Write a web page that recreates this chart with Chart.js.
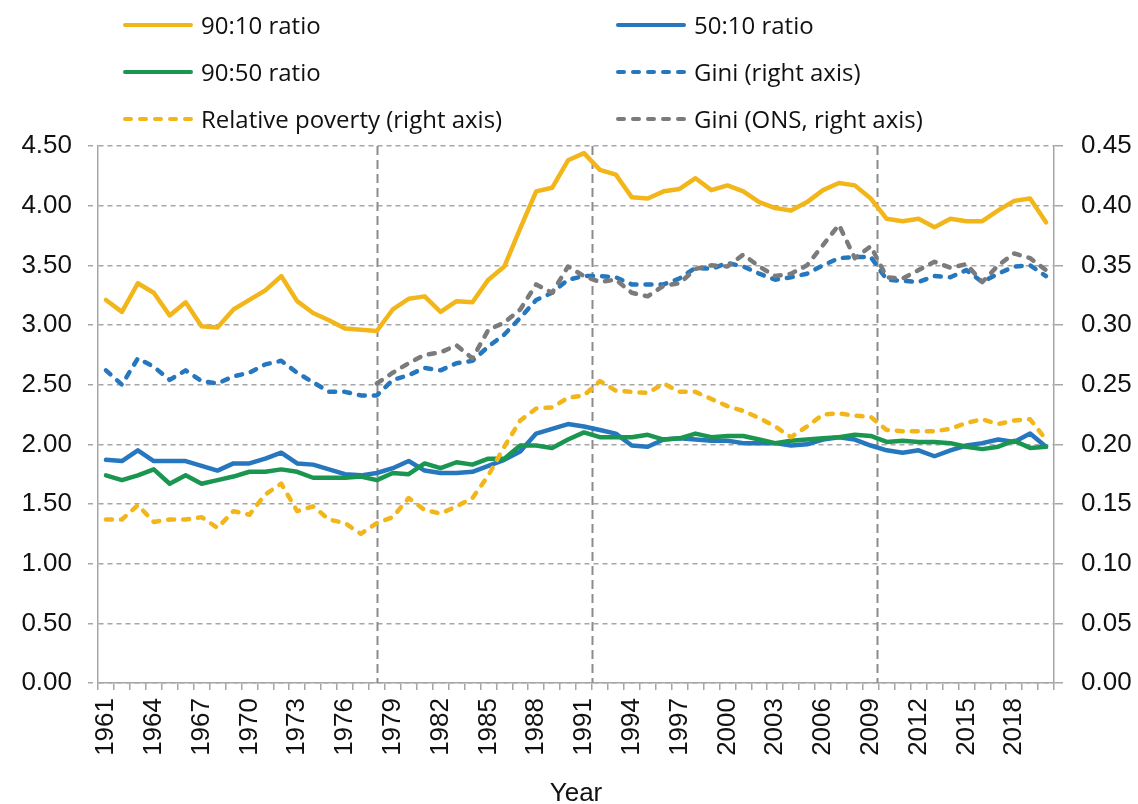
<!DOCTYPE html>
<html>
<head>
<meta charset="utf-8">
<script src="https://cdn.jsdelivr.net/npm/chart.js@4.4.1/dist/chart.umd.min.js"></script>
<style>
  html, body { margin: 0; padding: 0; background: #fff; }
  #wrap { position: relative; width: 1138px; height: 804px; }
  #legend { position: absolute; left: 0; top: 0; width: 1138px; height: 140px; }
  .item { position: absolute; display: flex; align-items: center; height: 30px;
          font-family: "Open Sans", "Liberation Sans", sans-serif; font-size: 24px; color: #111; line-height: 1; white-space: nowrap; }
  .item svg { margin-right: 8px; }
</style>
</head>
<body>
<div id="wrap">
  <canvas id="c" width="1138" height="804"></canvas>
  <div id="legend"></div>
</div>
<script>
const years = ["1961","1962","1963","1964","1965","1966","1967","1968","1969","1970",
  "1971","1972","1973","1974","1975","1976","1977","1978","1979","1980",
  "1981","1982","1983","1984","1985","1986","1987","1988","1989","1990",
  "1991","1992","1993","1994","1995","1996","1997","1998","1999","2000",
  "2001","2002","2003","2004","2005","2006","2007","2008","2009","2010",
  "2011","2012","2013","2014","2015","2016","2017","2018","2019","2020"];

const ratio9010 = [3.21,3.11,3.35,3.27,3.08,3.19,2.99,2.98,3.13,3.21,
  3.29,3.41,3.20,3.10,3.04,2.97,2.96,2.95,3.13,3.22,
  3.24,3.11,3.20,3.19,3.38,3.49,3.81,4.12,4.15,4.38,
  4.44,4.30,4.26,4.07,4.06,4.12,4.14,4.23,4.13,4.17,
  4.12,4.03,3.98,3.96,4.03,4.13,4.19,4.17,4.06,3.89,
  3.87,3.89,3.82,3.89,3.87,3.87,3.96,4.04,4.06,3.86];

const ratio5010 = [1.87,1.86,1.95,1.86,1.86,1.86,1.82,1.78,1.84,1.84,
  1.88,1.93,1.84,1.83,1.79,1.75,1.74,1.76,1.80,1.86,
  1.78,1.76,1.76,1.77,1.82,1.87,1.94,2.09,2.13,2.17,
  2.15,2.12,2.09,1.99,1.98,2.04,2.05,2.04,2.03,2.03,
  2.01,2.01,2.01,1.99,2.00,2.04,2.06,2.04,1.99,1.95,
  1.93,1.95,1.90,1.95,1.99,2.01,2.04,2.02,2.09,1.98];

const ratio9050 = [1.74,1.70,1.74,1.79,1.67,1.74,1.67,1.70,1.73,1.77,
  1.77,1.79,1.77,1.72,1.72,1.72,1.73,1.70,1.76,1.75,
  1.84,1.80,1.85,1.83,1.88,1.88,1.99,1.99,1.97,2.04,
  2.10,2.06,2.06,2.06,2.08,2.04,2.05,2.09,2.06,2.07,
  2.07,2.04,2.01,2.03,2.04,2.05,2.06,2.08,2.07,2.02,
  2.03,2.02,2.02,2.01,1.98,1.96,1.98,2.03,1.97,1.98];

const gini = [0.262,0.250,0.272,0.265,0.254,0.262,0.253,0.251,0.257,0.260,
  0.267,0.270,0.260,0.252,0.244,0.244,0.241,0.241,0.254,0.258,
  0.264,0.262,0.268,0.270,0.282,0.292,0.306,0.321,0.327,0.338,
  0.341,0.341,0.340,0.334,0.334,0.334,0.339,0.348,0.347,0.352,
  0.349,0.343,0.338,0.340,0.343,0.350,0.356,0.357,0.357,0.338,
  0.337,0.336,0.341,0.340,0.346,0.336,0.343,0.349,0.350,0.341];

const relPoverty = [0.137,0.137,0.149,0.135,0.137,0.137,0.139,0.130,0.144,0.141,
  0.158,0.167,0.144,0.148,0.137,0.134,0.125,0.134,0.139,0.155,
  0.145,0.142,0.148,0.155,0.174,0.198,0.220,0.230,0.231,0.239,
  0.241,0.253,0.245,0.244,0.243,0.251,0.244,0.244,0.238,0.232,
  0.228,0.222,0.215,0.206,0.215,0.225,0.226,0.224,0.223,0.212,
  0.211,0.211,0.211,0.213,0.218,0.221,0.217,0.220,0.221,0.204];

const giniONS = [null,null,null,null,null,null,null,null,null,null,
  null,null,null,null,null,null,null,0.251,0.260,0.268,
  0.275,0.277,0.283,0.272,0.296,0.302,0.313,0.334,0.327,0.349,
  0.341,0.336,0.338,0.327,0.324,0.333,0.335,0.347,0.350,0.349,
  0.359,0.349,0.341,0.343,0.350,0.367,0.384,0.356,0.366,0.340,
  0.339,0.346,0.353,0.348,0.351,0.336,0.350,0.360,0.356,0.346];

const leftTicks = { min: 0, max: 4.5, step: 0.5 };
const rightTicks = { min: 0, max: 0.45, step: 0.05 };
const periodBreaks = [1978, 1991.5, 2009.4];

const YELLOW = '#F3B61A', BLUE = '#2677BD', GREEN = '#1B9650', GREY = '#7B7B7B';
const AXIS = '#A6A6A6';
const tickFont = { family: '"Liberation Sans", Arial, sans-serif', size: 26 };
const DASH = [6, 9];

const datasets = [
  { label: '90:10 ratio', data: ratio9010, borderColor: YELLOW, yAxisID: 'y', dashed: false, col: 0, row: 0 },
  { label: '50:10 ratio', data: ratio5010, borderColor: BLUE, yAxisID: 'y', dashed: false, col: 1, row: 0 },
  { label: '90:50 ratio', data: ratio9050, borderColor: GREEN, yAxisID: 'y', dashed: false, col: 0, row: 1 },
  { label: 'Gini (right axis)', data: gini, borderColor: BLUE, yAxisID: 'y1', dashed: true, col: 1, row: 1 },
  { label: 'Relative poverty (right axis)', data: relPoverty, borderColor: YELLOW, yAxisID: 'y1', dashed: true, col: 0, row: 2 },
  { label: 'Gini (ONS, right axis)', data: giniONS, borderColor: GREY, yAxisID: 'y1', dashed: true, col: 1, row: 2 }
].map((d, i) => ({
  label: d.label, data: d.data, borderColor: d.borderColor, backgroundColor: d.borderColor,
  yAxisID: d.yAxisID, borderWidth: 4.5, pointRadius: 0, tension: 0, fill: false,
  borderDash: d.dashed ? DASH : [], borderCapStyle: 'round',
  borderJoinStyle: 'round', spanGaps: false, order: 10 - i,
  _col: d.col, _row: d.row
}));

const breakLines = {
  id: 'breakLines',
  beforeDatasetsDraw(chart) {
    const xs = chart.scales.x, area = chart.chartArea, ctx = chart.ctx;
    const first = Number(years[0]);
    const step = xs.getPixelForValue(1) - xs.getPixelForValue(0);
    ctx.save();
    ctx.strokeStyle = '#8C8C8C';
    ctx.lineWidth = 2;
    ctx.setLineDash([9, 5]);
    periodBreaks.forEach(yr => {
      const idx = yr - first, i0 = Math.floor(idx);
      const px = Math.round(xs.getPixelForValue(i0) + (idx - i0) * step) + 0.5;
      ctx.beginPath();
      ctx.moveTo(px, area.top);
      ctx.lineTo(px, area.bottom);
      ctx.stroke();
    });
    ctx.restore();
  }
};

const chart = new Chart(document.getElementById('c'), {
  type: 'line',
  data: { labels: years, datasets },
  plugins: [breakLines],
  options: {
    responsive: false,
    animation: false,
    devicePixelRatio: 1,
    layout: { padding: { top: 146, left: 0, right: 0, bottom: 0 } },
    plugins: { legend: { display: false }, tooltip: { enabled: false } },
    scales: {
      x: {
        type: 'category',
        offset: true,
        grid: { offset: true, drawOnChartArea: false, drawTicks: true, tickLength: 7, color: AXIS, lineWidth: 1.5 },
        border: { display: true, color: AXIS, width: 1.5 },
        ticks: {
          autoSkip: false, minRotation: 90, maxRotation: 90, padding: 8,
          font: tickFont, color: '#111',
          callback: (v, i) => (i % 3 === 0 ? years[i] : '')
        },
        title: { display: true, text: 'Year', font: tickFont, color: '#111', padding: { top: 0, bottom: -5 } },
        afterFit: s => { s.height = 121; }
      },
      y: {
        position: 'left',
        min: leftTicks.min, max: leftTicks.max,
        ticks: { stepSize: leftTicks.step, padding: 16, font: tickFont, color: '#111',
                 callback: v => Number(v).toFixed(2) },
        grid: { color: AXIS, lineWidth: 1.5, tickLength: 10, tickBorderDash: [5, 4] },
        border: { display: true, color: AXIS, width: 1.5, dash: [5, 4] },
        afterFit: s => { s.width = 98; }
      },
      y1: {
        position: 'right',
        min: rightTicks.min, max: rightTicks.max,
        ticks: { stepSize: rightTicks.step, padding: 18, font: tickFont, color: '#111',
                 callback: v => Number(v).toFixed(2) },
        grid: { drawOnChartArea: false, color: AXIS, lineWidth: 1.5, tickLength: 9 },
        border: { display: true, color: AXIS, width: 1.5 },
        afterFit: s => { s.width = 84; }
      }
    }
  }
});

// Custom two-column legend built from the chart's datasets
const legendEl = document.getElementById('legend');
const colX = [123, 616];
const rowY = [25, 72, 119];
chart.data.datasets.forEach(ds => {
  const item = document.createElement('div');
  item.className = 'item';
  item.style.left = colX[ds._col] + 'px';
  item.style.top = (rowY[ds._row] - 15) + 'px';
  const dash = ds.borderDash.length ? ds.borderDash.join(' ') : 'none';
  item.innerHTML = '<svg width="70" height="8"><line x1="2" y1="4" x2="68" y2="4" stroke="' + ds.borderColor +
    '" stroke-width="4" stroke-linecap="round"' + (dash !== 'none' ? ' stroke-dasharray="' + dash + '"' : '') + '/></svg>' +
    '<span>' + ds.label + '</span>';
  legendEl.appendChild(item);
});
</script>
</body>
</html>
